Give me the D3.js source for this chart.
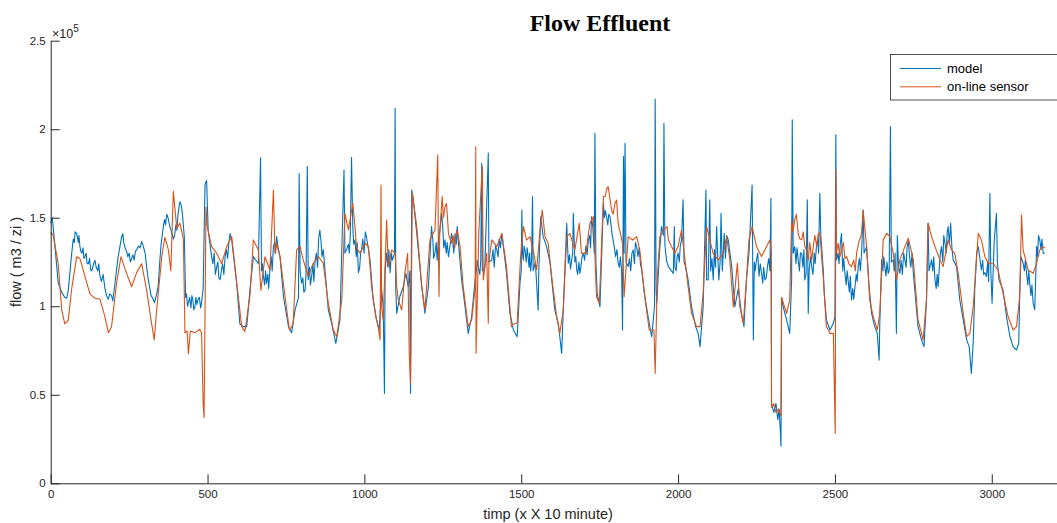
<!DOCTYPE html>
<html>
<head>
<meta charset="utf-8">
<script src="https://cdn.jsdelivr.net/npm/d3@7"></script>
<style>
  body { margin: 0; background: #fff; }
  .tick text { font-family: "Liberation Sans", Arial, sans-serif; font-size: 11.5px; fill: #262626; }
  .axis path, .axis line { stroke: #262626; }
</style>
</head>
<body>
<div id="chart"></div>
<script>
// tick labels (values in units of 10^5)
var xTicks = [0, 500, 1000, 1500, 2000, 2500, 3000];
var yTicks = [0, 0.5, 1, 1.5, 2, 2.5];
var seriesNames = ["model", "on-line sensor"];

// model flow, [time step, flow x 10^5]
var modelFlow = [
  [0,1.47],[5,1.50],[13,1.35],[24,1.13],[35,1.08],[45,1.05],[51,1.045],[56,1.09],[67,1.30],[72,1.38],[75,1.36],[78,1.42],[83,1.41],[86,1.38],[88,1.36],[90,1.40],[93,1.34],[96,1.31],[100,1.30],[103,1.33],[106,1.27],[109,1.28],[113,1.30],[116,1.24],[120,1.24],[124,1.27],[127,1.21],[131,1.20],[135,1.23],[141,1.26],[145,1.22],[150,1.20],[153,1.24],[157,1.17],[162,1.14],[167,1.18],[173,1.10],[178,1.06],[184,1.04],[188,1.07],[194,1.06],[198,1.03],[205,1.13],[215,1.28],[220,1.33],[226,1.39],[230,1.41],[233,1.36],[237,1.33],[242,1.31],[246,1.28],[250,1.30],[254,1.25],[258,1.27],[262,1.29],[266,1.26],[270,1.31],[274,1.32],[280,1.34],[285,1.33],[290,1.365],[295,1.34],[301,1.30],[306,1.22],[311,1.15],[316,1.10],[320,1.06],[327,1.04],[331,1.02],[338,1.07],[343,1.12],[348,1.26],[352,1.35],[359,1.45],[363,1.49],[366,1.46],[370,1.52],[374,1.50],[380,1.45],[385,1.42],[391,1.38],[395,1.40],[399,1.46],[402,1.43],[406,1.52],[409,1.56],[412,1.59],[416,1.57],[420,1.52],[426,1.39],[430,1.05],[433,1.07],[436,1.00],[439,1.02],[443,1.05],[447,0.99],[450,1.06],[453,1.04],[456,0.98],[460,1.00],[463,1.05],[466,1.01],[470,1.04],[474,1.05],[478,0.99],[481,1.02],[486,1.10],
  [492,1.69],[497,1.71],[502,1.43],[513,1.28],[517,1.24],[521,1.30],[525,1.18],[529,1.22],[533,1.25],[536,1.16],[540,1.15],[544,1.20],[548,1.24],[552,1.18],[556,1.28],[560,1.32],[564,1.27],[568,1.36],[572,1.41],[577,1.375],[593,1.13],[603,0.90],[614,0.885],[625,0.885],[635,1.09],[646,1.28],[662,1.24],[669,1.84],[672,1.20],[675,1.24],[678,1.17],[682,1.12],[685,1.20],[688,1.13],[692,1.18],[695,1.10],[699,1.22],[703,1.28],[706,1.20],[710,1.337],[714,1.36],[717,1.30],[720,1.394],[725,1.33],[731,1.28],[742,1.055],[758,0.885],[768,0.85],[779,0.98],[790,1.05],[792,1.75],[795,1.20],[800,1.13],[804,1.16],[807,1.08],[811,1.09],[814,1.18],[818,1.79],[821,1.15],[825,1.22],[828,1.12],[832,1.17],[836,1.24],[839,1.14],[843,1.26],[847,1.30],[851,1.22],[854,1.38],[858,1.43],[862,1.36],[865,1.28],[869,1.32],[885,0.98],[896,0.90],[909,0.79],[922,0.923],[935,1.77],[938,1.30],[943,1.32],[949,1.35],[952,1.30],[955,1.40],[959,1.84],[963,1.45],[966,1.35],[970,1.375],
  [974,1.28],[977,1.36],[981,1.19],[985,1.22],[988,1.30],[991,1.32],[995,1.38],[999,1.30],[1003,1.42],[1007,1.39],[1018,1.26],[1028,1.036],[1039,0.923],[1047,0.866],[1055,1.092],[1060,1.00],[1064,0.508],[1066,1.20],[1071,1.30],[1075,1.22],[1078,1.32],[1082,1.19],[1086,1.30],[1089,1.26],[1096,1.30],[1098,2.118],[1100,1.10],[1103,0.96],[1113,1.055],[1124,1.11],[1132,1.186],[1140,1.11],[1145,1.20],[1147,0.508],[1151,1.657],[1156,1.60],[1167,1.41],[1183,1.11],[1193,0.96],[1204,1.11],[1214,1.45],[1218,1.38],[1221,1.27],[1225,1.30],[1229,1.36],[1232,1.26],[1236,1.375],[1240,1.42],[1246,1.525],[1250,1.44],[1253,1.33],[1257,1.375],[1261,1.30],[1264,1.36],[1268,1.28],[1272,1.33],[1278,1.41],[1282,1.36],[1285,1.30],[1289,1.41],[1293,1.35],[1296,1.45],[1299,1.375],[1310,1.149],[1321,0.998],[1331,0.847],[1342,0.942],[1353,1.149],[1357,1.20],[1360,1.26],[1363,1.224],[1368,1.18],[1371,1.26],[1374,1.808],[1376,1.20],[1384,1.224],[1395,1.865],[1397,1.25],[1406,1.26],[1410,1.32],[1414,1.22],[1418,1.34],[1422,1.32],[1426,1.28],[1430,1.38],[1434,1.33],[1438,1.41],[1453,1.19],[1464,0.96],[1475,0.866],
  [1487,0.828],[1496,1.13],[1500,1.20],[1502,1.544],[1504,1.30],[1507,1.26],[1509,1.34],[1512,1.318],[1516,1.25],[1519,1.33],[1522,1.28],[1525,1.22],[1527,1.30],[1530,1.20],[1533,1.26],[1536,1.619],[1538,1.20],[1545,1.25],[1554,0.979],[1556,1.20],[1562,1.506],[1570,1.393],[1581,1.337],[1592,1.243],[1607,0.979],[1618,0.904],[1629,0.734],[1634,0.979],[1645,1.469],[1650,1.243],[1654,1.29],[1657,1.21],[1661,1.261],[1664,1.30],[1666,1.525],[1671,1.25],[1674,1.28],[1677,1.205],[1680,1.18],[1684,1.25],[1687,1.186],[1690,1.22],[1694,1.28],[1698,1.299],[1702,1.26],[1706,1.34],[1710,1.29],[1714,1.374],[1718,1.40],[1721,1.33],[1724,1.506],[1728,1.45],[1733,1.30],[1735,1.977],[1738,1.25],[1742,1.073],[1751,0.998],[1762,1.582],[1765,1.50],[1768,1.54],[1772,1.506],[1776,1.46],[1779,1.52],[1783,1.506],[1787,1.45],[1790,1.40],[1793,1.374],[1797,1.33],[1801,1.28],[1805,1.32],[1809,1.243],[1813,1.22],[1816,1.28],[1820,1.20],[1823,0.866],[1826,1.846],[1828,1.30],[1831,1.921],[1834,1.25],[1841,1.224],[1845,1.27],[1849,1.20],[1853,1.30],[1857,1.318],[1861,1.24],[1864,1.36],[1868,1.337],[1872,1.28],[1876,1.33],[1880,1.24],[1884,1.205],[1894,1.054],[1908,0.904],[1916,0.828],[1925,1.00],[1927,2.17],[1930,1.10],[1932,1.017],[1940,1.280],[1947,1.450],[1953,1.40],[1955,2.034],[1958,1.35],[1963,1.26],
  [1969,1.224],[1979,1.20],[1985,1.186],[1988,1.45],[1990,1.22],[1994,1.20],[1997,1.28],[2000,1.30],[2004,1.25],[2007,1.34],[2011,1.375],[2016,1.601],[2019,1.25],[2024,1.224],[2032,1.149],[2043,0.998],[2056,0.885],[2064,0.847],[2070,0.772],[2080,0.998],[2089,1.657],[2091,1.15],[2096,1.149],[2101,1.601],[2104,1.20],[2108,1.27],[2112,1.149],[2116,1.32],[2119,1.22],[2123,1.45],[2126,1.30],[2130,1.149],[2134,1.25],[2137,1.525],[2141,1.20],[2144,1.30],[2147,1.412],[2151,1.27],[2155,1.40],[2160,1.375],[2171,1.224],[2181,0.998],[2192,1.10],[2202,0.960],[2210,0.885],[2218,1.149],[2226,1.299],[2236,1.685],[2238,1.25],[2240,0.810],[2243,1.25],[2246,1.20],[2250,1.262],[2254,1.30],[2258,1.17],[2262,1.24],[2266,1.186],[2270,1.13],[2273,1.22],[2277,1.149],[2281,1.16],[2285,1.224],[2289,1.27],[2293,1.20],[2296,1.610],[2298,0.45],[2305,0.40],[2312,0.45],[2318,0.36],[2322,0.42],[2326,0.30],[2328,0.21],[2330,1.05],[2335,0.998],[2346,0.923],[2356,0.847],[2362,1.149],[2364,2.053],[2367,1.30],[2372,1.337],[2376,1.24],[2379,1.33],[2383,1.262],[2387,1.20],[2390,1.30],[2394,1.299],[2398,1.22],[2401,1.32],[2404,1.149],[2408,1.18],[2412,1.601],[2415,0.960],[2418,1.20],[2422,1.28],[2426,1.224],[2430,1.18],[2434,1.30],[2437,1.24],[2441,1.337],[2445,1.38],[2448,1.30],[2452,1.638],[2455,1.40],[2463,1.20],[2466,1.073],
  [2473,0.923],[2484,0.866],[2495,0.904],[2500,0.942],[2503,1.968],[2505,1.262],[2510,1.30],[2513,1.24],[2517,1.35],[2521,1.412],[2525,1.20],[2528,1.27],[2532,1.186],[2536,1.12],[2539,1.20],[2542,1.149],[2546,1.08],[2549,1.17],[2553,1.036],[2557,1.10],[2560,1.04],[2564,1.111],[2568,1.18],[2571,1.14],[2574,1.224],[2578,1.27],[2581,1.20],[2585,1.299],[2590,1.544],[2593,1.30],[2601,1.337],[2609,1.111],[2617,0.960],[2627,0.885],[2635,0.847],[2641,0.696],[2643,0.90],[2649,1.262],[2653,1.20],[2656,1.28],[2659,1.224],[2663,1.17],[2666,1.25],[2670,1.186],[2673,1.20],[2677,2.015],[2680,1.25],[2686,1.262],[2689,1.20],[2692,1.30],[2696,0.847],[2699,1.40],[2703,1.22],[2707,1.186],[2711,1.26],[2715,1.18],[2719,1.30],[2723,1.262],[2727,1.22],[2730,1.33],[2734,1.375],[2738,1.28],[2742,1.22],[2746,1.30],[2750,1.186],[2765,0.885],[2776,0.810],[2784,0.772],[2792,1.036],[2797,1.469],[2800,1.20],[2808,1.262],[2812,1.20],[2815,1.28],[2819,1.149],[2823,1.10],[2826,1.18],[2829,1.111],[2833,1.22],[2836,1.30],[2840,1.337],[2844,1.25],[2847,1.40],[2851,1.356],[2855,1.30],[2858,1.42],[2861,1.450],[2865,1.35],[2869,1.469],[2873,1.33],[2877,1.262],[2888,1.224],[2898,1.036],[2909,0.923],[2920,0.810],[2928,0.772],[2935,0.621],[2941,0.80],[2946,1.10],[2952,1.30],[2957,1.337],
  [2967,1.205],[2971,1.26],[2974,1.18],[2978,1.19],[2983,1.168],[2987,1.25],[2990,1.14],[2994,1.638],[2997,1.20],[3001,1.017],[3008,1.375],[3015,1.525],[3018,1.25],[3023,1.149],[3036,1.092],[3047,0.942],[3058,0.829],[3068,0.772],[3079,0.753],[3086,0.791],[3089,1.05],[3093,1.280],[3100,1.243],[3104,1.20],[3107,1.26],[3111,1.186],[3115,1.12],[3118,1.20],[3121,1.130],[3125,1.06],[3128,1.12],[3132,1.017],[3137,0.979],[3143,1.337],[3146,1.28],[3149,1.40],[3153,1.375],[3157,1.32],[3160,1.38],[3164,1.299],[3169,1.30]
];

// on-line sensor flow, [time step, flow x 10^5]
var sensorFlow = [
  [0,1.42],[8,1.40],[24,1.24],[35,0.98],[45,0.90],[56,0.92],[67,1.10],[83,1.28],[93,1.27],[109,1.17],[125,1.07],[141,1.045],[157,1.04],[173,0.94],[184,0.85],[194,0.885],[210,1.13],[224,1.28],[237,1.21],[258,1.11],[274,1.19],[290,1.24],[306,1.09],[320,0.92],[330,0.81],[338,0.98],[354,1.28],[364,1.39],[375,1.32],[383,1.20],[391,1.65],[402,1.44],[412,1.47],[423,1.38],[428,0.85],[435,0.86],[439,0.73],[445,0.86],[460,0.85],[475,0.87],[481,0.85],[486,0.45],[489,0.37],
  [495,1.56],[499,1.45],[513,1.337],[529,1.30],[545,1.24],[561,1.337],[577,1.394],[593,1.13],[609,0.885],[619,0.857],[635,1.055],[646,1.375],[662,1.318],[670,1.09],[683,1.28],[699,1.205],[710,1.657],[715,1.30],[720,1.356],[731,1.28],[747,1.055],[761,0.866],[773,0.90],[784,1.318],[795,1.337],[805,1.262],[821,1.168],[837,1.243],[853,1.28],[869,1.243],[885,1.017],[901,0.866],[912,0.828],[928,1.036],[938,1.525],[949,1.431],[963,1.582],[970,1.45],
  [975,1.33],[986,1.30],[1002,1.356],[1013,1.337],[1023,1.11],[1036,0.942],[1044,0.885],[1050,0.81],[1053,1.685],[1055,1.00],[1060,0.923],[1071,1.488],[1076,1.224],[1087,1.318],[1098,1.30],[1103,1.11],[1108,1.036],[1119,0.979],[1129,1.186],[1138,1.299],[1143,0.734],[1147,0.565],[1153,1.638],[1167,1.45],[1183,1.11],[1193,0.979],[1209,1.375],[1225,1.431],[1234,1.855],[1236,1.30],[1238,1.055],[1240,1.40],[1248,1.620],[1252,1.50],[1257,1.563],[1262,1.58],[1268,1.412],[1273,1.38],[1278,1.356],[1283,1.40],[1288,1.33],[1294,1.431],[1299,1.40],[1305,1.337],[1315,1.111],[1331,0.885],[1342,0.923],[1353,1.10],[1355,1.902],[1356,0.734],[1365,1.431],[1376,1.789],[1379,1.149],[1390,1.30],[1395,0.904],[1397,1.25],[1406,1.375],[1422,1.337],[1438,1.412],[1453,1.224],[1469,0.885],
  [1475,0.90],[1487,0.904],[1498,1.280],[1507,1.450],[1517,1.374],[1528,1.393],[1540,1.299],[1549,1.205],[1560,1.431],[1567,1.544],[1576,1.393],[1586,1.356],[1597,1.167],[1613,0.942],[1623,0.847],[1634,0.979],[1645,1.393],[1655,1.412],[1671,1.318],[1685,1.469],[1692,1.299],[1706,1.299],[1719,1.469],[1730,1.506],[1740,1.054],[1749,1.017],[1762,1.619],[1768,1.62],[1772,1.66],[1777,1.676],[1782,1.62],[1788,1.544],[1793,1.52],[1799,1.582],[1804,1.60],[1809,1.469],[1815,1.42],[1823,1.356],[1828,1.054],[1841,1.393],[1855,1.374],[1868,1.393],[1878,1.318],[1894,1.054],[1908,0.866],[1923,0.866],[1927,0.621],[1934,1.167],[1942,1.393],[1953,1.431],[1965,1.450],
  [1969,1.375],[1979,1.337],[1990,1.299],[2000,1.337],[2011,1.431],[2022,1.262],[2032,1.111],[2043,0.960],[2059,0.885],[2070,0.885],[2080,1.073],[2091,1.450],[2101,1.375],[2112,1.299],[2128,1.262],[2144,1.299],[2155,1.394],[2165,1.262],[2176,0.998],[2189,1.243],[2197,0.998],[2208,0.904],[2218,1.149],[2226,1.375],[2236,1.450],[2250,1.337],[2266,1.281],[2282,1.337],[2293,1.375],[2297,1.30],[2298,0.43],[2305,0.45],[2312,0.40],[2320,0.42],[2328,0.38],[2330,1.05],[2346,0.960],[2356,1.036],[2362,1.488],[2366,1.42],[2372,1.488],[2377,1.52],[2383,1.412],[2388,1.38],[2394,1.375],[2399,1.42],[2404,1.337],[2409,1.32],[2415,1.262],[2420,1.36],[2426,1.26],[2431,1.337],[2436,1.40],[2442,1.34],[2447,1.412],[2452,1.412],[2463,1.16],
  [2473,0.885],[2484,0.847],[2495,0.847],[2501,0.282],[2503,1.770],[2505,1.30],[2510,1.356],[2516,1.28],[2521,1.318],[2527,1.36],[2532,1.27],[2537,1.281],[2545,1.24],[2553,1.224],[2560,1.26],[2565,1.20],[2569,1.299],[2576,1.36],[2585,1.412],[2590,1.544],[2601,1.337],[2611,1.036],[2622,0.942],[2635,0.866],[2643,0.960],[2654,1.375],[2665,1.412],[2675,1.394],[2686,1.299],[2696,1.149],[2707,1.262],[2723,1.337],[2734,1.384],[2750,1.262],[2765,0.923],[2781,0.810],[2792,1.036],[2797,1.469],[2808,1.394],[2819,1.337],[2835,1.262],[2845,1.224],[2861,1.375],[2872,1.318],[2882,1.299],[2893,1.186],[2909,0.960],[2920,0.829],[2930,0.847],[2941,0.998],[2957,1.412],
  [2967,1.375],[2978,1.280],[2989,1.243],[3004,1.243],[3020,1.205],[3036,1.073],[3052,0.942],[3068,0.866],[3079,0.885],[3089,1.054],[3095,1.516],[3100,1.318],[3116,1.205],[3132,1.186],[3143,1.243],[3153,1.318],[3164,1.337],[3169,1.33]
];

var colors = ["#0072BD", "#D95319"];

// dimensions
var svgWidth = 1057;
var svgHeight = 523;
var margin = { top: 40.7, bottom: 39.7, right: 0, left: 50.7 };
var width = svgWidth - margin.left - margin.right;
var height = svgHeight - margin.top - margin.bottom;

var svg = d3.select("#chart")
  .append("svg")
  .attr("width", svgWidth)
  .attr("height", svgHeight)
  .style("display", "block");

svg.append("rect").attr("width", svgWidth).attr("height", svgHeight).attr("fill", "#fff");

var chartGroup = svg.append("g")
  .attr("transform", `translate(${margin.left}, ${margin.top})`);

// scales
var xScale = d3.scaleLinear().domain([0, 3208]).range([0, width]);
var yScale = d3.scaleLinear().domain([0, 2.5]).range([height, 0]);

// lines
var line = d3.line()
  .x(d => xScale(d[0]))
  .y(d => yScale(d[1]));

[modelFlow, sensorFlow].forEach(function(series, i) {
  chartGroup.append("path")
    .datum(series)
    .attr("fill", "none")
    .attr("stroke", colors[i])
    .attr("stroke-width", 1.1)
    .attr("stroke-linejoin", "round")
    .attr("d", line);
});

// axes, ticks point inwards like matlab
var bottomAxis = d3.axisBottom(xScale)
  .tickValues(xTicks)
  .tickFormat(d3.format("d"))
  .tickSizeInner(-9)
  .tickSizeOuter(0)
  .tickPadding(7);

var leftAxis = d3.axisLeft(yScale)
  .tickValues(yTicks)
  .tickFormat(d => String(d))
  .tickSizeInner(-9)
  .tickSizeOuter(0)
  .tickPadding(5);

chartGroup.append("g")
  .attr("class", "axis")
  .attr("transform", `translate(0, ${height})`)
  .call(bottomAxis);

chartGroup.append("g")
  .attr("class", "axis")
  .call(leftAxis);

// exponent label
var expo = svg.append("text")
  .attr("x", 52)
  .attr("y", 38)
  .attr("font-family", "Liberation Sans, Arial, sans-serif")
  .attr("font-size", 12.5)
  .attr("fill", "#262626");
expo.append("tspan").text("\u00d710");
expo.append("tspan").attr("dy", -6).attr("font-size", 10).text("5");

// title
svg.append("text")
  .attr("x", 600)
  .attr("y", 31)
  .attr("text-anchor", "middle")
  .attr("font-family", "Liberation Serif, Times New Roman, serif")
  .attr("font-weight", "bold")
  .attr("font-size", 24)
  .attr("fill", "#000")
  .text("Flow Effluent");

// axis labels
svg.append("text")
  .attr("x", 548)
  .attr("y", 519)
  .attr("text-anchor", "middle")
  .attr("font-family", "Liberation Sans, Arial, sans-serif")
  .attr("font-size", 14.5)
  .attr("fill", "#262626")
  .text("timp (x X 10 minute)");

svg.append("text")
  .attr("transform", "translate(21, 262) rotate(-90)")
  .attr("text-anchor", "middle")
  .attr("font-family", "Liberation Sans, Arial, sans-serif")
  .attr("font-size", 14.5)
  .attr("fill", "#262626")
  .text("flow ( m3 / zi )");

// legend
var legend = svg.append("g");
legend.append("rect")
  .attr("x", 890.5)
  .attr("y", 54.5)
  .attr("width", 180)
  .attr("height", 45.5)
  .attr("fill", "#fff")
  .attr("stroke", "#262626")
  .attr("stroke-width", 0.8);

seriesNames.forEach(function(name, i) {
  var ly = 68.5 + i * 18.3;
  legend.append("line")
    .attr("x1", 900).attr("x2", 941)
    .attr("y1", ly).attr("y2", ly)
    .attr("stroke", colors[i])
    .attr("stroke-width", 1);
  legend.append("text")
    .attr("x", 947)
    .attr("y", ly + 4.5)
    .attr("font-family", "Liberation Sans, Arial, sans-serif")
    .attr("font-size", 13)
    .attr("fill", "#000")
    .text(name);
});
</script>
</body>
</html>
